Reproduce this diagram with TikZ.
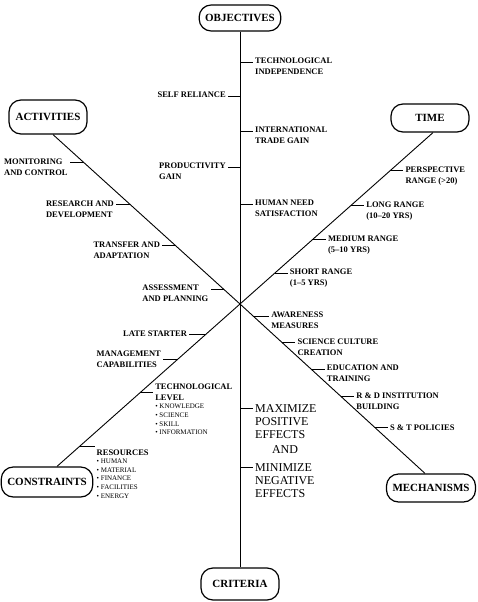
\documentclass[tikz,border=0pt]{standalone}
\usepackage{fontspec}
\setmainfont{Liberation Serif}
\usetikzlibrary{positioning}

\tikzset{
  goal/.style={draw, line width=1.2pt, rounded corners=12pt, font=\bfseries\fontsize{11}{13}\selectfont,
    minimum width=78pt, minimum height=28pt, inner xsep=6pt},
  arm/.style={line width=0.9pt},
  tick/.style={line width=0.9pt},
  tag/.style={font=\bfseries\fontsize{8.5}{11}\selectfont, align=left, inner sep=2pt},
  bul/.style={font=\fontsize{7}{8.7}\selectfont, align=left, inner sep=0pt},
  aim/.style={font=\fontsize{12}{13}\selectfont, align=left, inner sep=2pt}
}

\begin{document}
\begin{tikzpicture}[x=1pt, y=-1pt]
\useasboundingbox (0,0) rectangle (478,602);

% the six boxes
\node[goal, minimum height=26pt] (obj) at (240,18) {OBJECTIVES};
\node[goal, minimum height=34pt] (act) at (48,117) {ACTIVITIES};
\node[goal] (time) at (430,118) {TIME};
\node[goal, minimum height=30pt] (con) at (47,482) {CONSTRAINTS};
\node[goal] (mech) at (431,488) {MECHANISMS};
\node[goal, minimum height=32pt] (crit) at (240,584) {CRITERIA};

% axes through the hub
\coordinate (hub) at (240,304);
\draw[arm] (obj) -- (crit);
\draw[arm] (hub) -- ([xshift=5pt]act.south)
  coordinate[pos=.835] (a1) coordinate[pos=.588] (a2) coordinate[pos=.347] (a3) coordinate[pos=.088] (a4);
\draw[arm] (hub) -- ([xshift=3pt]time.south)
  coordinate[pos=.779] (t1) coordinate[pos=.576] (t2) coordinate[pos=.378] (t3) coordinate[pos=.180] (t4);
\draw[arm] (hub) -- ([xshift=10pt]con.north)
  coordinate[pos=.190] (k1) coordinate[pos=.344] (k2) coordinate[pos=.546] (k3) coordinate[pos=.877] (k4);
\draw[arm] (hub) -- ([xshift=-6pt]mech.north)
  coordinate[pos=.071] (m1) coordinate[pos=.229] (m2) coordinate[pos=.388] (m3) coordinate[pos=.547] (m4) coordinate[pos=.729] (m5);

% objectives
\coordinate (o1) at (240,62);
\coordinate (o2) at (240,96);
\coordinate (o3) at (240,131);
\coordinate (o4) at (240,167);
\coordinate (o5) at (240,204);
\node[tag, anchor=north west] (tind) at ([xshift=13pt, yshift=6pt]o1) {TECHNOLOGICAL\\INDEPENDENCE};
\node[tag, anchor=north east] (self) at ([xshift=-12pt, yshift=6pt]o2) {SELF RELIANCE};
\node[tag, anchor=north west] (trade) at ([xshift=13pt, yshift=6pt]o3) {INTERNATIONAL\\TRADE GAIN};
\node[tag, anchor=north east] (prod) at ([xshift=-12pt, yshift=6pt]o4) {PRODUCTIVITY\\GAIN};
\node[tag, anchor=north west] (need) at ([xshift=13pt, yshift=6pt]o5) {HUMAN NEED\\SATISFACTION};
\draw[tick] (o1) -- (o1 -| tind.west);
\draw[tick] (o2) -- (o2 -| self.east);
\draw[tick] (o3) -- (o3 -| trade.west);
\draw[tick] (o4) -- (o4 -| prod.east);
\draw[tick] (o5) -- (o5 -| need.west);

% activities
\node[tag, anchor=north east] (mon) at ([xshift=-14pt, yshift=6pt]a1) {MONITORING\\AND CONTROL};
\node[tag, anchor=north east] (rnd) at ([xshift=-14pt, yshift=6pt]a2) {RESEARCH AND\\DEVELOPMENT};
\node[tag, anchor=north east] (tra) at ([xshift=-13pt, yshift=6pt]a3) {TRANSFER AND\\ADAPTATION};
\node[tag, anchor=north east] (ass) at ([xshift=-13pt, yshift=6pt]a4) {ASSESSMENT\\AND PLANNING};
\draw[tick] (a1) -- (a1 -| mon.east);
\draw[tick] (a2) -- (a2 -| rnd.east);
\draw[tick] (a3) -- (a3 -| tra.east);
\draw[tick] (a4) -- (a4 -| ass.east);

% time
\node[tag, anchor=north west] (per) at ([xshift=13pt, yshift=6pt]t1) {PERSPECTIVE\\RANGE (>20)};
\node[tag, anchor=north west] (long) at ([xshift=13pt, yshift=6pt]t2) {LONG RANGE\\(10--20 YRS)};
\node[tag, anchor=north west] (med) at ([xshift=13pt, yshift=6pt]t3) {MEDIUM RANGE\\(5--10 YRS)};
\node[tag, anchor=north west] (short) at ([xshift=13pt, yshift=6pt]t4) {SHORT RANGE\\(1--5 YRS)};
\draw[tick] (t1) -- (t1 -| per.west);
\draw[tick] (t2) -- (t2 -| long.west);
\draw[tick] (t3) -- (t3 -| med.west);
\draw[tick] (t4) -- (t4 -| short.west);

% constraints
\node[tag, anchor=north east] (late) at ([xshift=-16pt, yshift=6pt]k1) {LATE STARTER};
\node[tag, anchor=north east] (mgmt) at ([xshift=-14pt, yshift=11pt]k2) {MANAGEMENT\\CAPABILITIES};
\node[tag, anchor=north west] (tlev) at ([xshift=13pt, yshift=11pt]k3) {TECHNOLOGICAL\\LEVEL};
\node[bul, below=1pt of tlev.south west, anchor=north west, xshift=2pt] (tlist)
  {\textbullet\ KNOWLEDGE\\\textbullet\ SCIENCE\\\textbullet\ SKILL\\\textbullet\ INFORMATION};
\node[tag, anchor=north west] (res) at ([xshift=15pt, yshift=-1pt]k4) {RESOURCES};
\node[bul, below=1pt of res.south west, anchor=north west, xshift=2pt] (rlist)
  {\textbullet\ HUMAN\\\textbullet\ MATERIAL\\\textbullet\ FINANCE\\\textbullet\ FACILITIES\\\textbullet\ ENERGY};
\draw[tick] (k1) -- (k1 -| late.east);
\draw[tick] (k2) -- (k2 -| mgmt.east);
\draw[tick] (k3) -- (k3 -| tlev.west);
\draw[tick] (k4) -- (k4 -| res.west);

% mechanisms
\node[tag, anchor=north west] (aware) at ([xshift=16pt, yshift=6pt]m1) {AWARENESS\\MEASURES};
\node[tag, anchor=north west] (sci) at ([xshift=13pt, yshift=6pt]m2) {SCIENCE CULTURE\\CREATION};
\node[tag, anchor=north west] (edu) at ([xshift=13pt, yshift=7pt]m3) {EDUCATION AND\\TRAINING};
\node[tag, anchor=north west] (inst) at ([xshift=13pt, yshift=6pt]m4) {R \& D INSTITUTION\\BUILDING};
\node[tag, anchor=north west] (pol) at ([xshift=13pt, yshift=5pt]m5) {S \& T POLICIES};
\draw[tick] (m1) -- (m1 -| aware.west);
\draw[tick] (m2) -- (m2 -| sci.west);
\draw[tick] (m3) -- (m3 -| edu.west);
\draw[tick] (m4) -- (m4 -| inst.west);
\draw[tick] (m5) -- (m5 -| pol.west);

% criteria
\coordinate (c1) at (240,408);
\coordinate (c2) at (240,467);
\node[aim, anchor=north west] (maxi) at ([xshift=13pt, yshift=6pt]c1) {MAXIMIZE\\POSITIVE\\EFFECTS};
\node[aim] (and) at (285,450) {AND};
\node[aim, anchor=north west] (mini) at ([xshift=13pt, yshift=6pt]c2) {MINIMIZE\\NEGATIVE\\EFFECTS};
\draw[tick] (c1) -- (c1 -| maxi.west);
\draw[tick] (c2) -- (c2 -| mini.west);
\end{tikzpicture}
\end{document}
